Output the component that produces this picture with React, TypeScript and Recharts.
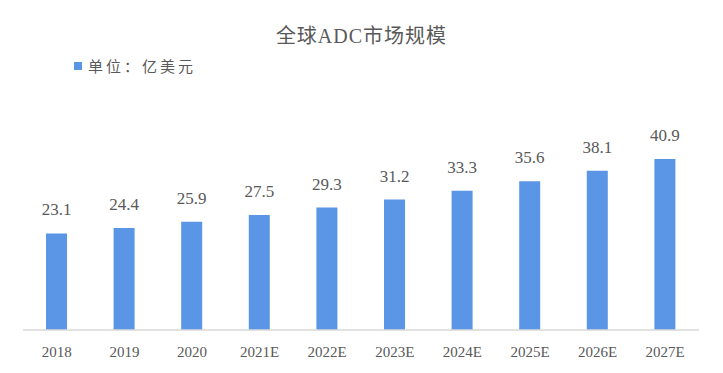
import { Bar, BarChart, LabelList, XAxis, YAxis } from "recharts";

const years = ["2018", "2019", "2020", "2021E", "2022E", "2023E", "2024E", "2025E", "2026E", "2027E"];
const marketSize = [23.1, 24.4, 25.9, 27.5, 29.3, 31.2, 33.3, 35.6, 38.1, 40.9];
const seriesName = "单位：亿美元";
const title = "全球ADC市场规模";

const data = years.map((year, i) => ({ year, value: marketSize[i] }));

const BLUE = "#5B95E5";
const TEXT = "#595959";
const SERIF = "'Liberation Serif', 'Noto Sans CJK SC', serif";

// value label drawn above each bar
function ValueLabel(props: any) {
  const { x, y, width, value } = props;
  return (
    <text x={x + width / 2} y={y - 18} textAnchor="middle" fill={TEXT} style={{ fontFamily: SERIF, fontSize: 17 }}>
      {value}
    </text>
  );
}

export default function App() {
  return (
    <div style={{ position: "absolute", left: 0, top: 0, width: 723, height: 373, background: "#fff" }}>
      <div
        style={{
          position: "absolute",
          top: 20,
          width: 723,
          textAlign: "center",
          fontFamily: SERIF,
          fontSize: 20,
          color: TEXT,
          letterSpacing: 1,
        }}
      >
        {title}
      </div>
      <div
        style={{
          position: "absolute",
          top: 55,
          left: 74,
          display: "flex",
          alignItems: "center",
          fontFamily: "'Noto Sans CJK SC', sans-serif",
          fontSize: 15,
          color: TEXT,
        }}
      >
        <span style={{ width: 8, height: 8, background: BLUE, display: "inline-block", marginRight: 6 }} />
        <span style={{ letterSpacing: 3 }}>{seriesName}</span>
      </div>
      <BarChart width={723} height={373} data={data} margin={{ top: 121, right: 24, left: 23, bottom: 0 }}>
        <XAxis
          dataKey="year"
          height={43}
          axisLine={{ stroke: "#D9D9D9", strokeWidth: 1.5 }}
          tickLine={false}
          tick={{ fill: TEXT, fontSize: 15, fontFamily: SERIF }}
          tickMargin={10}
        />
        <YAxis hide domain={[0, 50]} />
        <Bar dataKey="value" name={seriesName} fill={BLUE} barSize={21} isAnimationActive={false}>
          <LabelList dataKey="value" content={ValueLabel} />
        </Bar>
      </BarChart>
    </div>
  );
}
